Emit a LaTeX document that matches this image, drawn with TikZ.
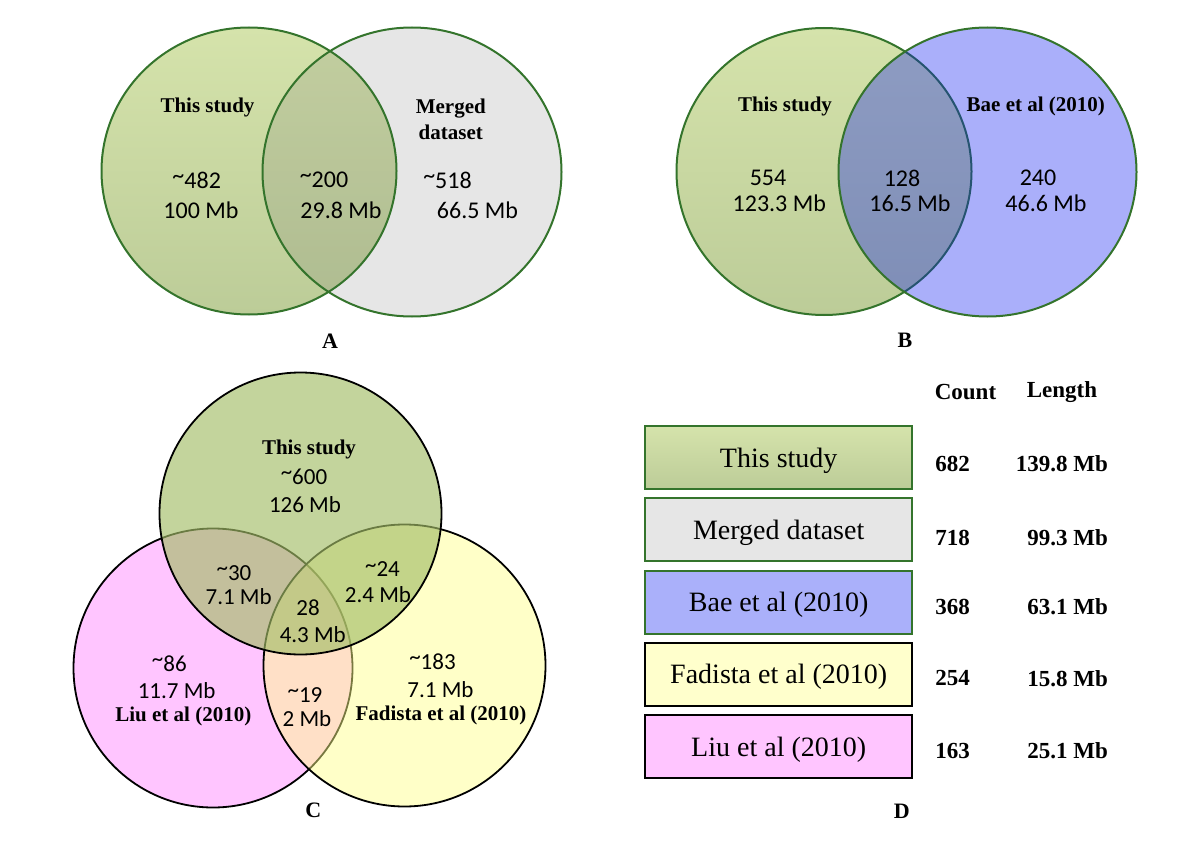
\documentclass[tikz,border=0pt]{standalone}
\usepackage{fontspec}
\setmainfont{Liberation Serif}
\newfontfamily\calfont{Carlito}
\usepackage{xcolor}
\usepackage{tikz}
\usetikzlibrary{positioning}

\definecolor{vgtop}{RGB}{213,227,171}
\definecolor{vgbot}{RGB}{188,204,152}
\definecolor{vedge}{RGB}{52,116,44}
\definecolor{vgrey}{RGB}{108,108,108}
\definecolor{vblue}{RGB}{12,26,240}
\definecolor{cgreen}{RGB}{163,189,103}
\definecolor{cpink}{RGB}{255,197,255}
\definecolor{cyellow}{RGB}{255,255,138}
\definecolor{kgrey}{RGB}{230,230,230}
\definecolor{kblue}{RGB}{170,176,250}
\definecolor{kyellow}{RGB}{255,255,204}

\newcommand{\apx}{\raisebox{.2em}{\textasciitilde}}

\begin{document}
\begin{tikzpicture}[x=1pt, y=-1pt, node distance=7.2pt,
  lbl/.style={font=\bfseries\fontsize{21}{25.7}\selectfont, align=center},
  num/.style={font=\calfont\fontsize{24}{24}\selectfont},
  numc/.style={font=\calfont\fontsize{23}{23}\selectfont},
  edge/.style={draw=vedge, line width=2pt},
  cedge/.style={draw=black, line width=1.8pt},
  tag/.style={font=\bfseries\fontsize{22}{22}\selectfont},
  keybox/.style={draw, line width=2pt, minimum width=267pt, minimum height=63pt,
    inner sep=0pt, text height=19pt, text depth=0pt, font=\fontsize{28}{28}\selectfont},
  cell/.style={font=\bfseries\fontsize{23}{23}\selectfont, inner sep=0pt}]
\useasboundingbox (0,0) rectangle (1200,859);

% A
\shade[top color=vgtop, bottom color=vgbot] (249,171) ellipse [x radius=147.5pt, y radius=143.5pt];
\fill[vgrey, fill opacity=.17] (412,172) ellipse [x radius=149.5pt, y radius=144.5pt];
\draw[edge] (249,171) ellipse [x radius=147.5pt, y radius=143.5pt];
\draw[edge] (412,172) ellipse [x radius=149.5pt, y radius=144.5pt];
\node[lbl] (ats) at (207.5,107) {This study};
\node[lbl] (amd) at (450.8,119) {Merged\\dataset};
\node[num] (a1n) at (196.7,180) {\apx482};
\node[num] (a1m) at (201,210) {100 Mb};
\node[num] (a2n) at (324,180) {\apx200};
\node[num] (a2m) at (341,210) {29.8 Mb};
\node[num] (a3n) at (447.5,180) {\apx518};
\node[num] (a3m) at (477.5,210) {66.5 Mb};
\node[tag] (la) at (330,341.7) {A};

% B
\shade[top color=vgtop, bottom color=vgbot] (824,171.5) ellipse [x radius=147.5pt, y radius=143.5pt];
\draw[edge] (824,171.5) ellipse [x radius=147.5pt, y radius=143.5pt];
\fill[vblue, fill opacity=.35] (987.5,172) ellipse [x radius=149pt, y radius=144.5pt];
\draw[edge] (987.5,172) ellipse [x radius=149pt, y radius=144.5pt];
\node[lbl] (bts) at (785,106) {This study};
\node[lbl] (bba) at (1035.8,106) {Bae et al (2010)};
\node[num] (b1n) at (768,178) {554};
\node[num] (b1m) at (779.3,203) {123.3 Mb};
\node[num] (b2n) at (902,178) {128};
\node[num] (b2m) at (910,203) {16.5 Mb};
\node[num] (b3n) at (1038,178) {240};
\node[num] (b3m) at (1046,203) {46.6 Mb};
\node[tag] (lb) at (905,340) {B};

% C
\fill[cpink] (213,668) circle [radius=139.5pt];
\draw[cedge] (213,668) circle [radius=139.5pt];
\fill[cyellow, fill opacity=.47] (404.5,665.5) circle [radius=141pt];
\draw[cedge] (404.5,665.5) circle [radius=141pt];
\fill[cgreen, fill opacity=.65] (300.5,513.5) circle [radius=141pt];
\draw[cedge] (300.5,513.5) circle [radius=141pt];
\node[lbl] (cts) at (309,449.3) {This study};
\node[numc] (c0n) at (304,476.7) {\apx600};
\node[numc] (c0m) at (305,505) {126 Mb};
\node[numc] (c1n) at (234,572.7) {\apx30};
\node[numc] (c1m) at (238.7,596.7) {7.1 Mb};
\node[numc] (c2n) at (382.5,569.3) {\apx24};
\node[numc] (c2m) at (378,595) {2.4 Mb};
\node[numc] (c3n) at (308,607.3) {28};
\node[numc] (c3m) at (312.8,635) {4.3 Mb};
\node[numc] (c4n) at (169.3,663.3) {\apx86};
\node[numc] (c4m) at (176.7,690.7) {11.7 Mb};
\node[lbl] (cli) at (183.3,716.7) {Liu et al (2010)};
\node[numc] (c5n) at (305,695) {\apx19};
\node[numc] (c5m) at (307,719) {2 Mb};
\node[numc] (c6n) at (432.5,661.7) {\apx183};
\node[numc] (c6m) at (440.5,690) {7.1 Mb};
\node[lbl] (cfa) at (441,715) {Fadista et al (2010)};
\node[tag] (lc) at (313.3,810) {C};

% D
\coordinate (lx) at (1108,0);
\node[cell] (hc) at (965.5,391.7) {Count};
\node[cell] (hl) at (1062,392) {Length};
\node[keybox, draw=vedge, top color=vgtop, bottom color=vgbot] (kts) at (778.7,457.7) {This study};
\node[keybox, draw=vedge, fill=kgrey, below=of kts] (kmd) {Merged dataset};
\node[keybox, draw=vedge, fill=kblue, below=of kmd] (kba) {Bae et al (2010)};
\node[keybox, draw=black, fill=kyellow, below=of kba] (kfa) {Fadista et al (2010)};
\node[keybox, draw=black, fill=cpink, below=of kfa] (kli) {Liu et al (2010)};
\node[cell, right=22pt of kts, yshift=-6pt] (n1) {682};
\node[cell, right=22pt of kmd, yshift=-8pt] (n2) {718};
\node[cell, right=22pt of kba, yshift=-5pt] (n3) {368};
\node[cell, right=22pt of kfa, yshift=-4pt] (n4) {254};
\node[cell, right=22pt of kli, yshift=-4pt] (n5) {163};
\node[cell, anchor=east] (m1) at (n1 -| lx) {139.8 Mb};
\node[cell, anchor=east] (m2) at (n2 -| lx) {99.3 Mb};
\node[cell, anchor=east] (m3) at (n3 -| lx) {63.1 Mb};
\node[cell, anchor=east] (m4) at (n4 -| lx) {15.8 Mb};
\node[cell, anchor=east] (m5) at (n5 -| lx) {25.1 Mb};
\node[tag] (ld) at (901.7,811.7) {D};
\end{tikzpicture}
\end{document}
